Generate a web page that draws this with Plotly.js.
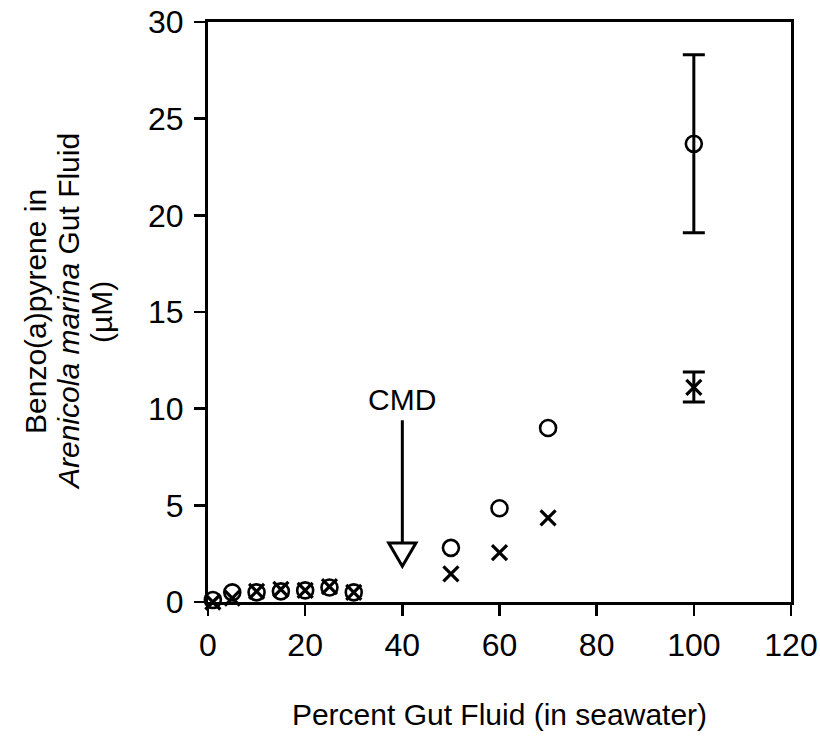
<!DOCTYPE html>
<html>
<head>
<meta charset="utf-8">
<script src="https://cdn.plot.ly/plotly-3.0.1.min.js"></script>
<style>html,body{margin:0;padding:0;background:#fff;}#chart{width:820px;height:755px;}</style>
</head>
<body>
<div id="chart"></div>
<script>
// Percent gut fluid (in seawater)
const pctGutFluid = [1, 5, 10, 15, 20, 25, 30, 50, 60, 70, 100];
// Series "o"
const circleValues = [0.1, 0.5, 0.5, 0.55, 0.6, 0.75, 0.5, 2.8, 4.85, 9.0, 23.7];
const circleErrPlus = [null, null, null, null, null, null, null, null, null, null, 4.6];
const circleErrMinus = [null, null, null, null, null, null, null, null, null, null, 4.6];
// Series "x"
const crossValues = [0.0, 0.2, 0.55, 0.65, 0.6, 0.8, 0.5, 1.45, 2.55, 4.35, 11.1];
const crossErrPlus = [null, null, null, null, null, null, null, null, null, null, 0.8];
const crossErrMinus = [null, null, null, null, null, null, null, null, null, null, 0.75];
const xTicks = [0, 20, 40, 60, 80, 100, 120];
const yTicks = [0, 5, 10, 15, 20, 25, 30];
const yTitleLines = ['Benzo(a)pyrene in', '<i>Arenicola marina</i> Gut Fluid', '(µM)'];
const cmdX = 40;

const FONT = '"Liberation Sans", Arial, Helvetica, sans-serif';
const FS = 30;
const TFS = 32;

function withErr(vals, plus, minus) {
  const idx = plus.map((v, i) => (v === null ? -1 : i)).filter(i => i >= 0);
  return {
    x: idx.map(i => pctGutFluid[i]), y: idx.map(i => vals[i]),
    plus: idx.map(i => plus[i]), minus: idx.map(i => minus[i])
  };
}
const cE = withErr(circleValues, circleErrPlus, circleErrMinus);
const xE = withErr(crossValues, crossErrPlus, crossErrMinus);

const errStyle = {color: '#000', thickness: 3, width: 11};

const traces = [
  {
    x: cE.x, y: cE.y, type: 'scatter', mode: 'markers', name: 'o error', cliponaxis: false,
    marker: {size: 1, color: 'rgba(0,0,0,0)'}, hoverinfo: 'skip',
    error_y: Object.assign({type: 'data', symmetric: false, array: cE.plus, arrayminus: cE.minus}, errStyle)
  },
  {
    x: xE.x, y: xE.y, type: 'scatter', mode: 'markers', name: 'x error', cliponaxis: false,
    marker: {size: 1, color: 'rgba(0,0,0,0)'}, hoverinfo: 'skip',
    error_y: Object.assign({type: 'data', symmetric: false, array: xE.plus, arrayminus: xE.minus}, errStyle)
  },
  {
    x: pctGutFluid, y: circleValues, type: 'scatter', mode: 'markers', name: 'o',
    cliponaxis: false,
    marker: {symbol: 'circle-open', size: 16, color: '#000', line: {width: 2.6, color: '#000'}}
  },
  {
    x: pctGutFluid, y: crossValues, type: 'scatter', mode: 'markers', name: 'x',
    cliponaxis: false,
    marker: {symbol: 'x-thin-open', size: 15, color: '#000', line: {width: 3.2, color: '#000'}}
  }
];

const yTitleShifts = [-173, -140, -107];

const layout = {
  width: 820, height: 755,
  margin: {l: 208, r: 29, t: 22, b: 153},
  paper_bgcolor: '#fff', plot_bgcolor: '#fff',
  showlegend: false,
  font: {family: FONT, color: '#000', size: FS},
  xaxis: {
    range: [0, 120], tickvals: xTicks, ticktext: xTicks.map(String),
    showgrid: false, zeroline: false,
    showline: true, linecolor: '#000', linewidth: 3, mirror: true,
    ticks: 'outside', ticklen: 11, tickwidth: 2.5, tickcolor: '#000',
    ticklabelstandoff: 2,
    tickfont: {family: FONT, size: TFS, color: '#000'},
    title: {text: 'Percent Gut Fluid (in seawater)', font: {family: FONT, size: FS, color: '#000'}, standoff: 42}
  },
  yaxis: {
    range: [0, 30], tickvals: yTicks, ticktext: yTicks.map(String),
    showgrid: false, zeroline: false,
    showline: true, linecolor: '#000', linewidth: 3, mirror: true,
    ticks: 'outside', ticklen: 11, tickwidth: 2.5, tickcolor: '#000',
    ticklabelstandoff: 4,
    tickfont: {family: FONT, size: TFS, color: '#000'}
  },
  shapes: [
    {type: 'line', xref: 'x', yref: 'y', x0: cmdX, x1: cmdX, y0: 9.4, y1: 3.05,
     line: {color: '#000', width: 3}},
    {type: 'path', xref: 'x', yref: 'y',
     path: 'M 37.2,3.05 L 42.8,3.05 L 40,1.85 Z',
     fillcolor: '#fff', line: {color: '#000', width: 3}}
  ],
  annotations: [
    {x: cmdX, y: 9.4, xref: 'x', yref: 'y', text: 'CMD', showarrow: false,
     yanchor: 'bottom', yshift: 2, font: {family: FONT, size: FS, color: '#000'}}
  ].concat(yTitleLines.map((t, i) => ({
    x: 0, y: 0.5, xref: 'paper', yref: 'paper', text: t, showarrow: false,
    textangle: -90, xanchor: 'center', yanchor: 'middle', xshift: yTitleShifts[i],
    font: {family: FONT, size: FS, color: '#000'}
  })))
};

Plotly.newPlot('chart', traces, layout, {displayModeBar: false, staticPlot: true});
</script>
</body>
</html>
